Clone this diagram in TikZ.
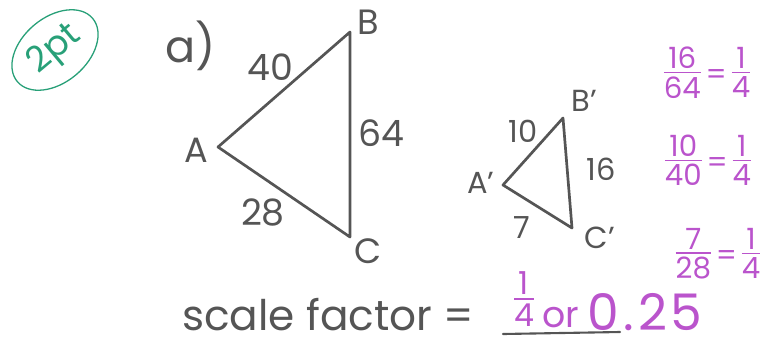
\documentclass[tikz,border=0pt]{standalone}
\usepackage{fontspec}
\setmainfont{Poppins}
\usetikzlibrary{positioning, calc, shapes.geometric}
\definecolor{pencil}{RGB}{85,85,85}
\definecolor{inkpurple}{RGB}{186,84,204}
\definecolor{inkgreen}{RGB}{40,160,120}
\tikzset{
  side/.style={draw=pencil, line width=2.3pt, line join=round, line cap=round},
  vname/.style={text=pencil, font=\fontsize{30}{30}\selectfont, inner sep=0pt},
  vnameS/.style={text=pencil, font=\fontsize{26}{26}\selectfont, inner sep=0pt},
  len/.style={text=pencil, font=\fontsize{31}{31}\selectfont, inner sep=0pt},
  lenS/.style={text=pencil, font=\fontsize{26}{26}\selectfont, inner sep=0pt},
  ratio/.style={text=inkpurple, font=\fontsize{25}{25}\selectfont, inner sep=0pt},
}
\setlength{\arrayrulewidth}{1.2pt}
\newcommand{\hfrac}[2]{\begin{tabular}{@{}c@{}}#1\\[-5pt]\hline\rule{0pt}{0.85em}#2\end{tabular}}

\begin{document}
\begin{tikzpicture}[x=0.03cm, y=-0.03cm]
\useasboundingbox (0,0) rectangle (783,350);
% points score
\node (pts) [draw=inkgreen, text=inkgreen, line width=1.1pt, ellipse, inner sep=1pt, minimum width=2.95cm, minimum height=1.95cm, rotate=40, font=\fontsize{30}{30}\selectfont] at (55,50) {2pt};
\node (part) [text=pencil, font=\fontsize{38}{38}\selectfont, inner sep=0pt] at (191,46) {a)};
% big triangle
\coordinate (A) at (218,147);
\coordinate (B) at (350,32);
\coordinate (C) at (350,237);
\draw[side] (A) -- (B) -- (C) -- cycle;
\node (lA) [vname] at (196,150) {A};
\node (lB) [vname] at (368,22) {B};
\node (lC) [vname] at (368,251) {C};
\node (l40) [len] at (270,67) {40};
\node (l64) [len] at (381,133) {64};
\node (l28) [len] at (263,212) {28};
% small triangle
\coordinate (A2) at (503,185);
\coordinate (B2) at (563,118);
\coordinate (C2) at (572,228);
\draw[side] (A2) -- (B2) -- (C2) -- cycle;
\node (lA2) [vnameS] at (481,183) {A'};
\node (lB2) [vnameS] at (584,101) {B'};
\node (lC2) [vnameS] at (600,238) {C'};
\node (l10) [lenS] at (523,131) {10};
\node (l16) [lenS] at (601,169) {16};
\node (l7) [lenS] at (522,228) {7};
% ratios
\node (r1) [ratio] at (707,77) {\hfrac{16}{64}\,=\,\hfrac{1}{4}};
\node (r2) [ratio] at (708,165) {\hfrac{10}{40}\,=\,\hfrac{1}{4}};
\node (r3) [ratio] at (718,258) {\hfrac{7}{28}\,=\,\hfrac{1}{4}};
% answer
\node (sf) [text=pencil, font=\fontsize{36}{36}\selectfont, inner sep=0pt, anchor=base west] at (182,330) {scale factor =};
\node (q) [ratio, font=\fontsize{27}{27}\selectfont] at (524,304) {\hfrac{1}{4}};
\node (or) [text=inkpurple, font=\fontsize{31}{31}\selectfont, inner sep=0pt, anchor=base west] at (542,327) {or};
\node (dec) [text=inkpurple, font=\fontsize{43}{43}\selectfont, inner sep=0pt, anchor=base west] at (587,330) {0\hspace{4pt}.\hspace{4pt}2\hspace{2pt}5};
\coordinate (u1) at (503,334);
\coordinate (u2) at (620,332);
\draw[pencil, line width=1.8pt, line cap=round] (u1) -- (u2);
\end{tikzpicture}
\end{document}
